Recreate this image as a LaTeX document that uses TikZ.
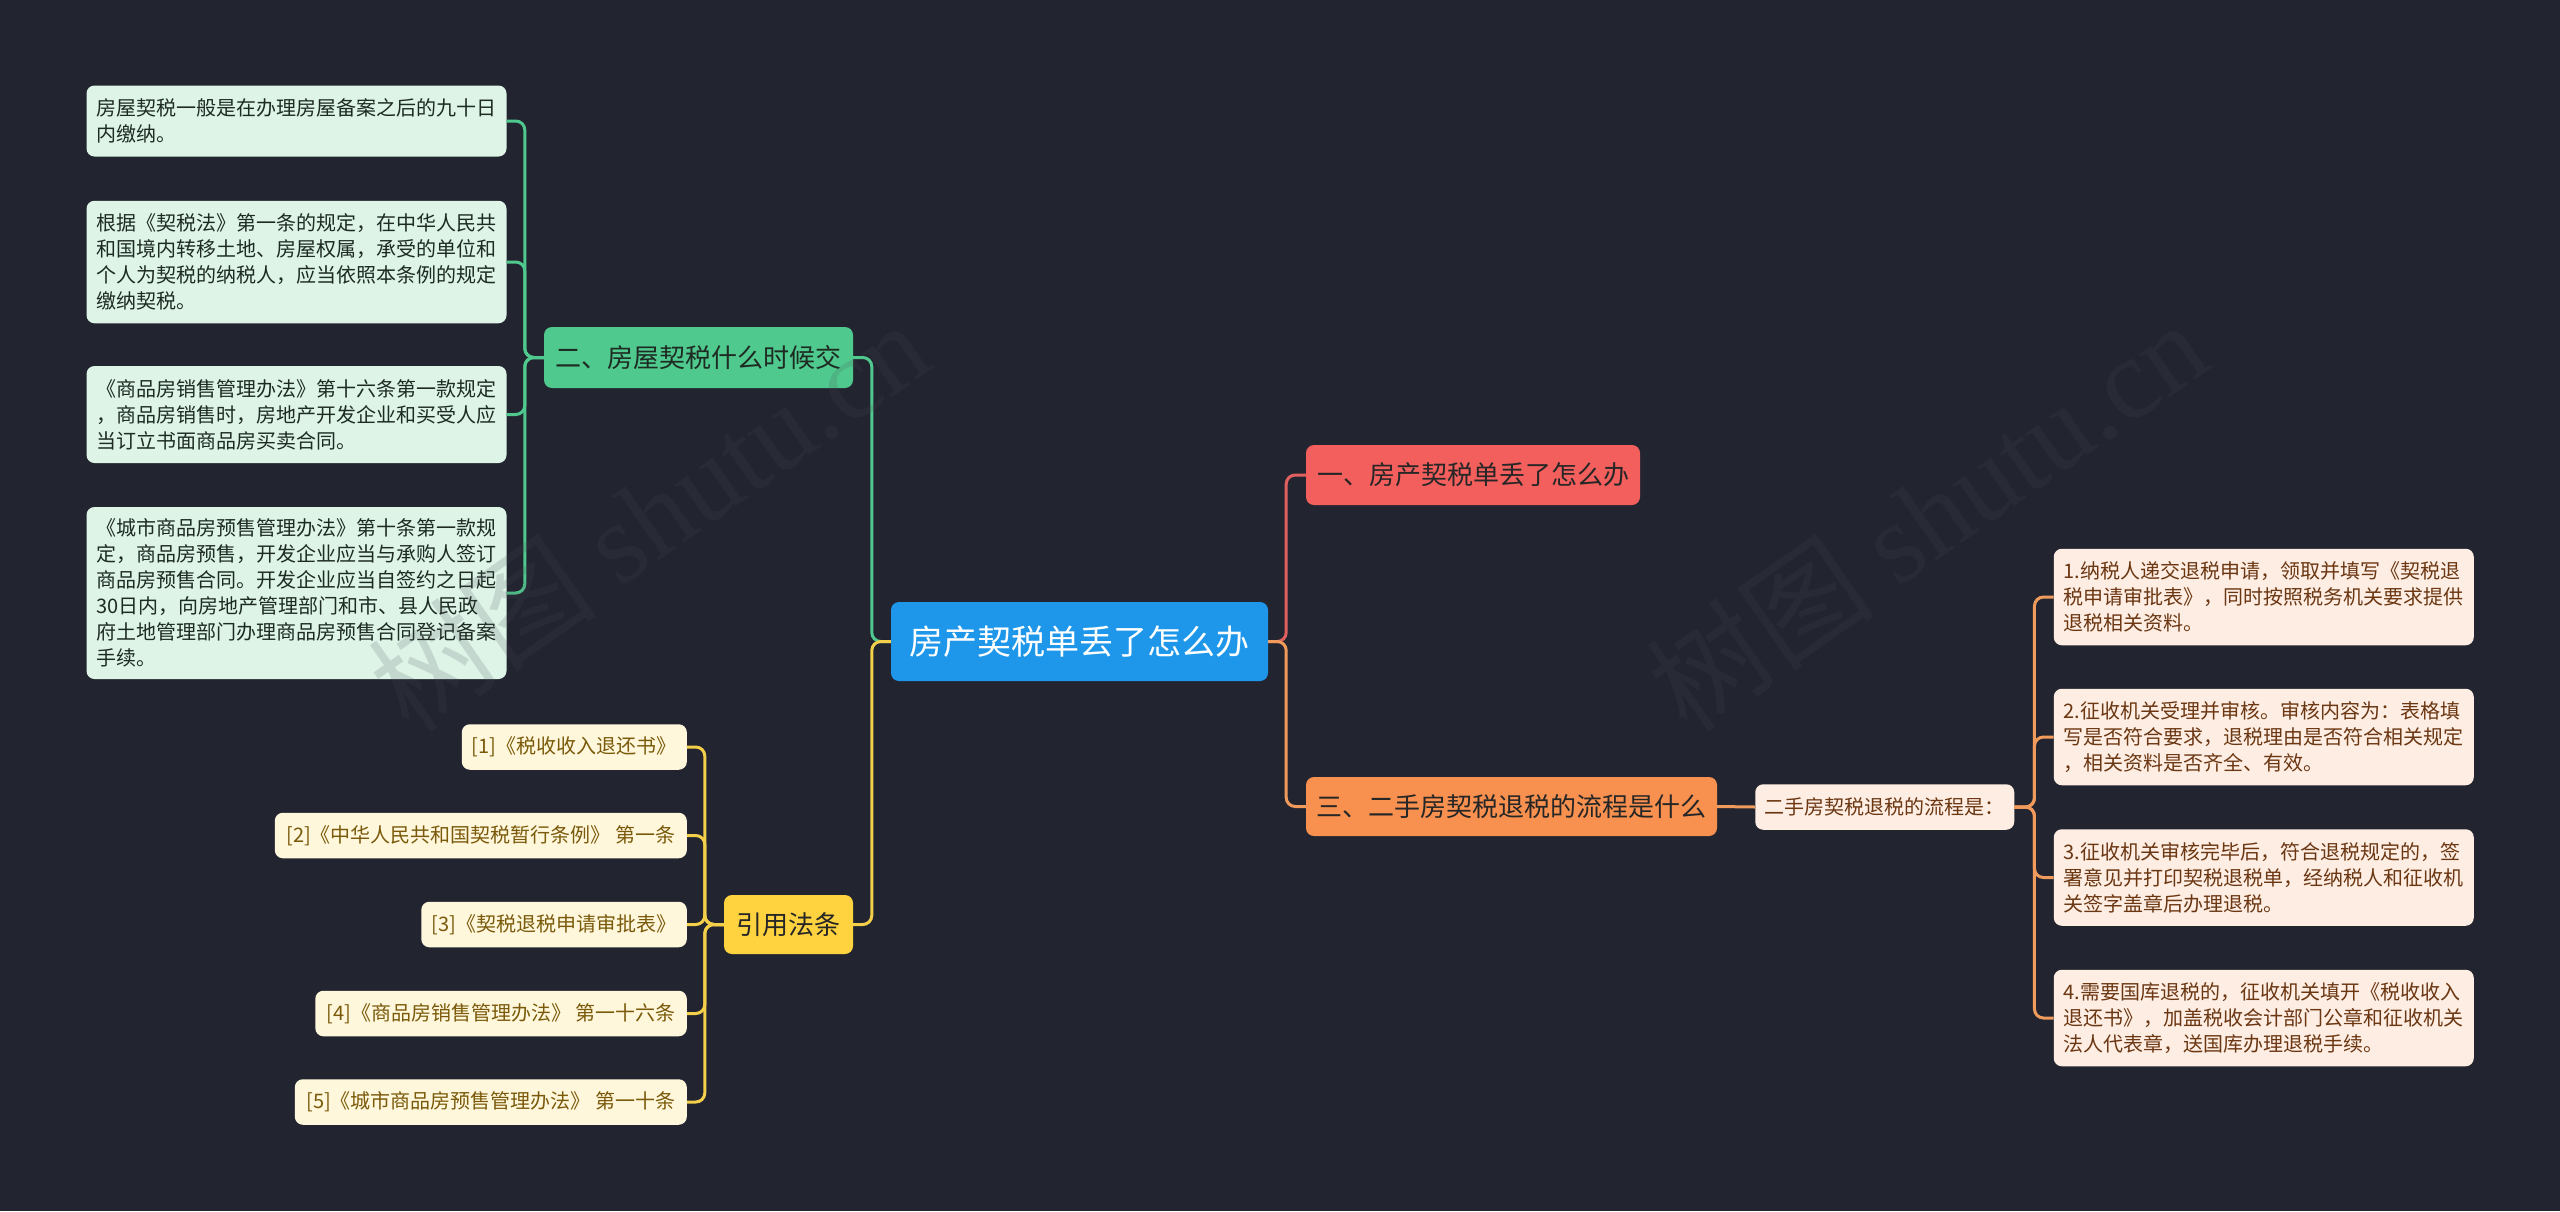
\documentclass[tikz,border=0pt]{standalone}
\usepackage{fontspec}
\setmainfont{Noto Sans CJK SC}
\newfontfamily\wmfont{Liberation Serif}
\definecolor{bgc}{HTML}{222530}
\definecolor{rootc}{HTML}{1E97EA}
\definecolor{gnodec}{HTML}{4FC98D}
\definecolor{gfill}{HTML}{DDF4E7}
\definecolor{gtext}{HTML}{1E2B23}
\definecolor{ynodec}{HTML}{FFD23F}
\definecolor{yfill}{HTML}{FFF7DC}
\definecolor{ytext}{HTML}{7A5A0A}
\definecolor{ylinec}{HTML}{F3CF4A}
\definecolor{rnodec}{HTML}{F25F5C}
\definecolor{rlinec}{HTML}{E0605F}
\definecolor{onodec}{HTML}{F8914F}
\definecolor{olinec}{HTML}{F09A5C}
\definecolor{pfill}{HTML}{FDEDE2}
\definecolor{ptext}{HTML}{6B3612}
\definecolor{wmc}{HTML}{4A4D58}
\begin{document}
\begin{tikzpicture}[x=1pt,y=-1pt,
  basebox/.style={rounded corners=8pt, inner sep=0pt},
  rootbox/.style={basebox, fill=rootc, text=white, font=\fontsize{34}{40}\selectfont},
  mainbox/.style={basebox, font=\fontsize{26}{32}\selectfont},
  leafbox/.style={basebox, align=left, text width=400pt, inner xsep=10pt, font=\fontsize{20}{26}\selectfont},
  gleaf/.style={leafbox, fill=gfill, text=gtext},
  pleaf/.style={leafbox, fill=pfill, text=ptext},
  yleaf/.style={basebox, fill=yfill, text=ytext, minimum height=45.5pt, anchor=east, font=\fontsize{20}{26}\selectfont},
  conn/.style={line width=3pt, rounded corners=9pt},
  gline/.style={conn, draw=gnodec},
  yline/.style={conn, draw=ylinec},
  rline/.style={conn, draw=rlinec},
  oline/.style={conn, draw=olinec},
  wm/.style={text=wmc, text opacity=0.17, rotate=35, font=\fontsize{115}{120}\selectfont}
]
\useasboundingbox (0,0) rectangle (2560,1211);
\fill[bgc] (0,0) rectangle (2560,1211);

% root
\node[rootbox, minimum width=377pt, minimum height=79pt] (root) at (1079.5,641.5) {房产契税单丢了怎么办};

% main branches
\node[mainbox, fill=gnodec, text=gtext, minimum width=309pt, minimum height=61pt] (gnode) at (698.5,357.5) {二、房屋契税什么时候交};
\node[mainbox, fill=ynodec, text=black!85, minimum width=129pt, minimum height=59pt] (ynode) at (788.5,924.5) {引用法条};
\node[mainbox, fill=rnodec, text=black!85, minimum width=334pt, minimum height=60pt] (rnode) at (1473,475) {一、房产契税单丢了怎么办};
\node[mainbox, fill=onodec, text=black!85, minimum width=411pt, minimum height=59pt] (onode) at (1511.5,806.5) {三、二手房契税退税的流程是什么};

% green leaves
\node[gleaf, minimum height=71pt] (g1) at (296.5,121) {房屋契税一般是在办理房屋备案之后的九十日\\内缴纳。};
\node[gleaf, minimum height=122.5pt] (g2) at (296.5,262) {根据《契税法》第一条的规定，在中华人民共\\和国境内转移土地、房屋权属，承受的单位和\\个人为契税的纳税人，应当依照本条例的规定\\缴纳契税。};
\node[gleaf, minimum height=97pt] (g3) at (296.5,414.5) {《商品房销售管理办法》第十六条第一款规定\\，商品房销售时，房地产开发企业和买受人应\\当订立书面商品房买卖合同。};
\node[gleaf, minimum height=172pt] (g4) at (296.5,593) {《城市商品房预售管理办法》第十条第一款规\\定，商品房预售，开发企业应当与承购人签订\\商品房预售合同。开发企业应当自签约之日起\\30日内，向房地产管理部门和市、县人民政\\府土地管理部门办理商品房预售合同登记备案\\手续。};

% yellow leaves
\node[yleaf, minimum width=225pt] (y1) at (687,747) {[1]《税收收入退还书》};
\node[yleaf, minimum width=412pt] (y2) at (687,835.5) {[2]《中华人民共和国契税暂行条例》 第一条};
\node[yleaf, minimum width=265.5pt] (y3) at (687,924.5) {[3]《契税退税申请审批表》};
\node[yleaf, minimum width=371.5pt] (y4) at (687,1013.5) {[4]《商品房销售管理办法》 第一十六条};
\node[yleaf, minimum width=392pt] (y5) at (687,1102) {[5]《城市商品房预售管理办法》 第一十条};

% orange sub node
\node[basebox, fill=pfill, text=ptext, minimum width=259pt, minimum height=45.5pt, font=\fontsize{20}{26}\selectfont] (sub) at (1884.75,807) {二手房契税退税的流程是：};

% right leaves
\node[pleaf, minimum height=96.5pt] (p1) at (2263.75,597) {1.纳税人递交退税申请，领取并填写《契税退\\税申请审批表》，同时按照税务机关要求提供\\退税相关资料。};
\node[pleaf, minimum height=96.5pt] (p2) at (2263.75,737) {2.征收机关受理并审核。审核内容为：表格填\\写是否符合要求，退税理由是否符合相关规定\\，相关资料是否齐全、有效。};
\node[pleaf, minimum height=96.5pt] (p3) at (2263.75,877.5) {3.征收机关审核完毕后，符合退税规定的，签\\署意见并打印契税退税单，经纳税人和征收机\\关签字盖章后办理退税。};
\node[pleaf, minimum height=96.5pt] (p4) at (2263.75,1018) {4.需要国库退税的，征收机关填开《税收收入\\退还书》，加盖税收会计部门公章和征收机关\\法人代表章，送国库办理退税手续。};

% connectors: root to left branches
\draw[gline] (gnode.east) -| ([xshift=-19pt]root.west) -- (root.west);
\draw[yline] (ynode.east) -| ([xshift=-19pt]root.west) -- (root.west);
% green leaves
\foreach \n in {g1,g2,g3,g4}
  \draw[gline] (\n.east) -| ([xshift=-19pt]gnode.west) -- (gnode.west);
% yellow leaves
\foreach \n in {y1,y2,y3,y4,y5}
  \draw[yline] (\n.east) -| ([xshift=-19pt]ynode.west) -- (ynode.west);
% right
\draw[rline] (root.east) -- ([xshift=18pt]root.east) |- (rnode.west);
\draw[oline] (root.east) -- ([xshift=18pt]root.east) |- (onode.west);
\draw[oline] (onode.east) -- (sub.west);
\foreach \n in {p1,p2,p3,p4}
  \draw[oline] (sub.east) -- ([xshift=20pt]sub.east) |- (\n.west);

% watermarks (faint, on top)
\node[wm] (wm1) at (648,515) {树图 {\wmfont shutu.cn}};
\node[wm] (wm2) at (1926,515) {树图 {\wmfont shutu.cn}};
\end{tikzpicture}
\end{document}
